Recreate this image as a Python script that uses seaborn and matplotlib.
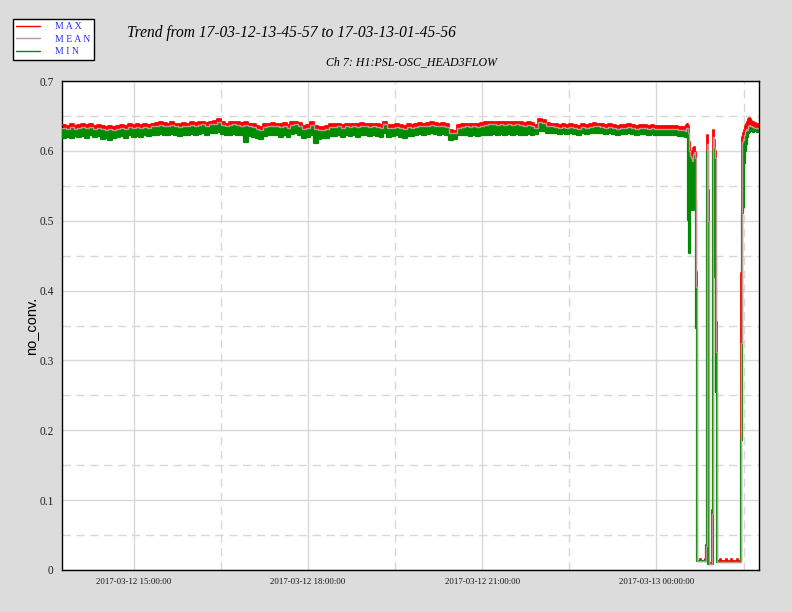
import numpy as np
import pandas as pd
import matplotlib
matplotlib.use("Agg")
import matplotlib.pyplot as plt
import matplotlib.dates as mdates
import matplotlib.ticker as mticker
import seaborn as sns

# ---------------- data ----------------
start_time = "2017-03-12 13:45:57"
end_time = "2017-03-13 01:45:56"

# 4-minute samples (minutes 0..644) before the drop-outs
max_flat = [
    .637, .636, .638, .636, .637, .638, .637, .638, .636, .637,
    .635, .634, .635, .634, .636, .637, .636, .638, .637, .638,
    .637, .638, .637, .639, .640, .641, .640, .639, .641, .639,
    .638, .640, .639, .641, .640, .641, .642, .640, .642, .643,
    .646, .641, .639, .641, .642, .641, .640, .641, .639, .638,
    .635, .634, .638, .639, .640, .639, .638, .640, .637, .641,
    .642, .640, .636, .637, .641, .635, .634, .634, .635, .638,
    .638, .639, .637, .639, .638, .639, .638, .640, .639, .638,
    .639, .638, .637, .642, .637, .637, .638, .637, .636, .638,
    .637, .638, .640, .639, .640, .641, .640, .639, .640, .638,
    .630, .629, .637, .638, .639, .638, .639, .638, .640, .641,
    .642, .642, .641, .642, .641, .642, .641, .642, .641, .640,
    .641, .640, .637, .645, .644, .640, .639, .638, .637, .638,
    .637, .638, .637, .636, .638, .637, .638, .640, .639, .638,
    .637, .638, .637, .636, .637, .637, .638, .637, .636, .637,
    .637, .636, .637, .636, .635, .636, .635, .636, .635, .634,
    .634, .633]
mean_flat = [
    .633, .632, .634, .632, .633, .634, .633, .634, .632, .633,
    .631, .630, .631, .630, .632, .633, .632, .634, .633, .634,
    .633, .634, .633, .635, .636, .637, .636, .635, .637, .635,
    .634, .636, .635, .637, .636, .637, .638, .636, .638, .639,
    .641, .637, .635, .637, .638, .637, .636, .637, .635, .634,
    .631, .630, .634, .635, .636, .635, .634, .636, .633, .637,
    .638, .636, .632, .633, .637, .631, .630, .630, .631, .634,
    .634, .635, .633, .635, .634, .635, .634, .636, .635, .634,
    .635, .634, .633, .638, .633, .633, .634, .633, .632, .634,
    .633, .634, .636, .635, .636, .637, .636, .635, .636, .634,
    .626, .625, .633, .634, .635, .634, .635, .634, .636, .637,
    .638, .638, .637, .638, .637, .638, .637, .638, .637, .636,
    .637, .636, .633, .641, .640, .636, .635, .634, .633, .634,
    .633, .634, .633, .632, .634, .633, .634, .636, .635, .634,
    .633, .634, .633, .632, .633, .633, .634, .633, .632, .633,
    .633, .632, .633, .632, .631, .632, .631, .632, .631, .630,
    .630, .629]
min_flat = [
    .619, .620, .618, .621, .620, .621, .619, .622, .620, .621,
    .617, .618, .616, .619, .620, .621, .619, .622, .620, .621,
    .620, .622, .621, .622, .623, .624, .622, .623, .624, .622,
    .621, .623, .622, .624, .623, .624, .625, .623, .625, .626,
    .627, .624, .622, .623, .624, .623, .622, .613, .621, .620,
    .618, .617, .621, .622, .623, .622, .620, .623, .620, .624,
    .625, .622, .619, .620, .623, .611, .617, .618, .619, .621,
    .621, .622, .620, .622, .621, .622, .620, .623, .622, .621,
    .622, .621, .620, .626, .620, .621, .622, .620, .619, .621,
    .621, .622, .624, .623, .624, .625, .624, .623, .624, .622,
    .616, .617, .622, .623, .623, .621, .622, .621, .622, .623,
    .623, .624, .623, .624, .623, .624, .623, .624, .623, .623,
    .624, .623, .624, .629, .628, .626, .625, .625, .624, .625,
    .624, .625, .624, .623, .625, .624, .625, .626, .625, .625,
    .624, .625, .624, .623, .624, .624, .625, .624, .623, .624,
    .624, .623, .624, .623, .622, .623, .622, .623, .622, .621,
    .621, .620]

# 1-minute samples (minutes 645..720) covering the drop-outs
max_drop = [
    .637, .638, .636, .613, .600, .597, .592, .604, .606, .598,
    .427, .013, .013, .013, .016, .013, .013, .013, .013, .016,
    .036, .622, .544, .010, .010, .010, .086, .630, .625, .615,
    .600, .355,
    .013, .013, .013, .016, .013, .013, .013, .013, .013, .016,
    .013, .013, .013, .013, .016, .013, .013, .013, .013, .013,
    .016, .013, .013, .013,
    .425, .620, .625, .622, .630, .635, .638, .642, .645, .647,
    .645, .643, .642, .641, .640, .640, .639, .639, .639, .639]
mean_drop = [
    .633, .633, .625, .600, .592, .590, .585, .596, .598, .590,
    .405, .013, .013, .013, .013, .013, .013, .013, .013, .013,
    .035, .610, .500, .009, .009, .009, .080, .620, .615, .605,
    .590, .312,
    .012, .012, .012, .012, .012, .012, .012, .012, .012, .012,
    .012, .012, .012, .012, .012, .012, .012, .012, .012, .012,
    .012, .012, .012, .012,
    .325, .612, .617, .615, .622, .628, .631, .630, .635, .637,
    .636, .635, .634, .634, .633, .633, .633, .633, .633, .633]
min_drop = [
    .624, .625, .501, .454, .545, .515, .535, .520, .515, .530,
    .346, .013, .013, .013, .013, .013, .013, .013, .013, .013,
    .034, .600, .009, .009, .009, .009, .009, .600, .550, .420,
    .450, .255,
    .012, .012, .012, .012, .012, .012, .012, .012, .012, .012,
    .012, .012, .012, .012, .012, .012, .012, .012, .012, .012,
    .012, .012, .012, .012,
    .186, .511, .520, .550, .583, .600, .610, .620, .625, .627,
    .628, .628, .628, .627, .628, .628, .628, .627, .627, .627]

series_names = ["MAX", "MEAN", "MIN"]
legend_labels = ["M A X", "M E A N", "M I N"]
series_colors = ["#ff0000", "#c09696", "#008c00"]

ytick_values = [0, 0.1, 0.2, 0.3, 0.4, 0.5, 0.6, 0.7]
ytick_labels = ["0", "0.1", "0.2", "0.3", "0.4", "0.5", "0.6", "0.7"]
yminor_values = [0.05, 0.15, 0.25, 0.35, 0.45, 0.55, 0.65]
xminor_times = ["2017-03-12 16:30", "2017-03-12 19:30",
                "2017-03-12 22:30", "2017-03-13 01:30"]

title_text = "Trend from 17-03-12-13-45-57 to 17-03-13-01-45-56"
subtitle_text = "Ch 7: H1:PSL-OSC_HEAD3FLOW"
ylabel_text = "no_conv."

# ---------------- build frame ----------------
minutes = np.concatenate([np.arange(0, 645, 4), np.arange(645, 721)])
times = pd.Timestamp(start_time) + pd.to_timedelta(minutes, unit="m")
df = pd.DataFrame({
    "time": times,
    "MAX": max_flat + max_drop,
    "MEAN": mean_flat + mean_drop,
    "MIN": min_flat + min_drop,
})

sns.set_theme(style="white")
plt.rcParams["font.family"] = ["Liberation Serif", "DejaVu Serif"]

fig = plt.figure(figsize=(7.92, 6.12), dpi=100, facecolor="#dcdcdc")
ax = fig.add_axes([62 / 792, 42 / 612, 697 / 792, 489 / 612])
ax.set_facecolor("white")

red, grey, green = series_colors

ax.fill_between(df["time"], df["MEAN"], df["MAX"], step="post",
                color=red, lw=0, zorder=2)
sns.lineplot(data=df, x="time", y="MAX", ax=ax, color=red, lw=1.3,
             drawstyle="steps-post", estimator=None, label=legend_labels[0],
             zorder=3)
ax.fill_between(df["time"], df["MIN"], df["MEAN"], step="post",
                color=green, lw=0, zorder=4)
sns.lineplot(data=df, x="time", y="MIN", ax=ax, color=green, lw=1.6,
             drawstyle="steps-post", estimator=None, label=legend_labels[2],
             zorder=5)
sns.lineplot(data=df, x="time", y="MEAN", ax=ax, color=grey, lw=1.0,
             drawstyle="steps-post", estimator=None, label=legend_labels[1],
             zorder=6)

# axes limits and ticks
ax.set_xlim(pd.Timestamp(start_time), pd.Timestamp(end_time))
ax.set_ylim(0, 0.7)
ax.set_yticks(ytick_values, labels=ytick_labels)
ax.yaxis.set_minor_locator(mticker.FixedLocator(yminor_values))
ax.xaxis.set_major_locator(mdates.HourLocator(byhour=[0, 3, 6, 9, 12, 15, 18, 21]))
ax.xaxis.set_major_formatter(mdates.DateFormatter("%Y-%m-%d %H:%M:%S"))
ax.xaxis.set_minor_locator(mticker.FixedLocator(
    mdates.date2num(pd.to_datetime(xminor_times))))

ax.grid(which="major", color="#d8d8d8", lw=1.0, ls="-")
ax.grid(which="minor", color="#d8d8d8", lw=1.0, ls=(0, (6, 4)))
ax.set_axisbelow(True)

ax.tick_params(which="both", length=0)
ax.tick_params(axis="y", labelsize=8.3, pad=6, labelcolor="#222222")
ax.tick_params(axis="x", labelsize=6.3, pad=6, labelcolor="#111111")
for s in ax.spines.values():
    s.set_color("black")
    s.set_linewidth(1.0)

ax.set_xlabel("")
ax.set_ylabel(ylabel_text, family=["Liberation Sans", "DejaVu Sans"],
              fontsize=10.5, color="black")
ax.yaxis.set_label_coords(-0.035, 0.5)

# legend
handles, labels = ax.get_legend_handles_labels()
order = [labels.index(l) for l in legend_labels]
if ax.get_legend() is not None:
    ax.get_legend().remove()
leg = fig.legend([handles[i] for i in order], legend_labels,
                 loc="upper left", bbox_to_anchor=(13 / 792, 1 - 19 / 612),
                 frameon=True, fancybox=False, edgecolor="black",
                 facecolor="white", framealpha=1,
                 prop={"family": "Liberation Serif", "size": 7},
                 labelcolor="#2a2aff", handlelength=2.4, handletextpad=1.6,
                 labelspacing=0.35, borderpad=0.35, borderaxespad=0)
leg.get_frame().set_linewidth(1.0)
for h in leg.legend_handles:
    h.set_linewidth(1.0)

fig.text(127 / 792, 1 - 33 / 612, title_text, style="italic", fontsize=11.2,
         ha="left", va="center", color="black")
fig.text(497 / 792, 1 - 62 / 612, subtitle_text, style="italic", fontsize=8.6,
         ha="right", va="center", color="black")

fig.savefig("out.png", dpi=100, facecolor=fig.get_facecolor())
